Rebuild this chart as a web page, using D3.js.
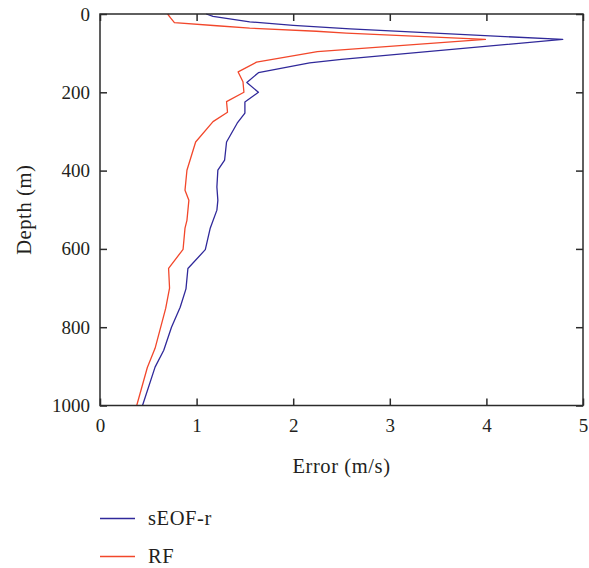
<!DOCTYPE html>
<html>
<head>
<meta charset="utf-8">
<script src="https://cdn.jsdelivr.net/npm/d3@7"></script>
<style>
  body { margin: 0; background: #fff; }
  text { font-family: "Liberation Serif", "DejaVu Serif", serif; fill: #231f20; }
</style>
</head>
<body>
<div id="chart"></div>
<script>
// depth (m) and error (m/s)
const seofDepth = [0, 6, 20, 29, 38, 65, 116, 125, 150, 175, 200, 225, 253, 279, 327, 373, 399, 442, 476, 501, 548, 602, 650, 702, 749, 800, 859, 902, 1000];
const seofErr   = [1.10, 1.17, 1.55, 2.00, 2.59, 4.79, 2.50, 2.17, 1.64, 1.52, 1.64, 1.50, 1.50, 1.42, 1.31, 1.29, 1.22, 1.21, 1.22, 1.21, 1.14, 1.09, 0.91, 0.89, 0.83, 0.74, 0.66, 0.57, 0.44];

const rfDepth = [0, 10, 19, 22, 30, 36, 44, 49, 65, 96, 123, 148, 173, 200, 224, 251, 275, 327, 399, 450, 476, 527, 547, 601, 650, 700, 752, 854, 903, 1000];
const rfErr   = [0.70, 0.73, 0.76, 0.77, 1.21, 1.55, 2.24, 2.55, 3.99, 2.25, 1.62, 1.43, 1.48, 1.49, 1.31, 1.32, 1.17, 0.99, 0.90, 0.88, 0.92, 0.90, 0.88, 0.86, 0.71, 0.72, 0.68, 0.57, 0.49, 0.38];

const xTicks = [0, 1, 2, 3, 4, 5];
const yTicks = [0, 200, 400, 600, 800, 1000];

const series = [
  {name: "sEOF-r", depth: seofDepth, err: seofErr, color: "#30299a"},
  {name: "RF", depth: rfDepth, err: rfErr, color: "#f2472b"}
];

const W = 589, H = 568;
const plotL = 100, plotR = 583, plotT = 14, plotB = 405.5;

const svg = d3.select("#chart")
  .append("svg")
    .attr("width", W)
    .attr("height", H);

const x = d3.scaleLinear().domain([0, 5]).range([plotL, plotR]);
const y = d3.scaleLinear().domain([0, 1000]).range([plotT, plotB]);

const axisColor = "#2b2b2b";

// lines
const line = d3.line()
  .x(d => x(d[1]))
  .y(d => y(d[0]));

series.forEach(s => {
  svg.append("path")
    .datum(d3.zip(s.depth, s.err))
    .attr("fill", "none")
    .attr("stroke", s.color)
    .attr("stroke-width", 1.3)
    .attr("stroke-linejoin", "round")
    .attr("d", line);
});

// axes, ticks pointing inward
const gx = svg.append("g")
  .attr("transform", `translate(0,${plotB})`)
  .call(d3.axisBottom(x).tickValues(xTicks).tickSize(-7).tickPadding(13).tickFormat(d3.format("d")));
const gxTop = svg.append("g")
  .attr("transform", `translate(0,${plotT})`)
  .call(d3.axisTop(x).tickValues(xTicks).tickSize(-7).tickFormat(""));
const gy = svg.append("g")
  .attr("transform", `translate(${plotL},0)`)
  .call(d3.axisLeft(y).tickValues(yTicks).tickSize(-7).tickPadding(10).tickFormat(d3.format("d")));
const gyRight = svg.append("g")
  .attr("transform", `translate(${plotR},0)`)
  .call(d3.axisRight(y).tickValues(yTicks).tickSize(-7).tickFormat(""));

[gx, gxTop, gy, gyRight].forEach(g => {
  g.select(".domain").remove();
  g.selectAll(".tick line").attr("stroke", axisColor).attr("stroke-width", 1.5);
  g.selectAll(".tick text")
    .attr("font-family", "Liberation Serif, DejaVu Serif, serif")
    .attr("font-size", 19)
    .attr("fill", "#231f20");
});

svg.append("rect")
  .attr("x", plotL)
  .attr("y", plotT)
  .attr("width", plotR - plotL)
  .attr("height", plotB - plotT)
  .attr("fill", "none")
  .attr("stroke", axisColor)
  .attr("stroke-width", 1.5);

// axis titles
svg.append("text")
  .attr("x", (plotL + plotR) / 2)
  .attr("y", 473)
  .attr("text-anchor", "middle")
  .attr("font-size", 20.5)
  .attr("letter-spacing", 0.6)
  .text("Error (m/s)");

svg.append("text")
  .attr("transform", `translate(31,${(plotT + plotB) / 2}) rotate(-90)`)
  .attr("text-anchor", "middle")
  .attr("font-size", 20.5)
  .attr("letter-spacing", 0.6)
  .text("Depth (m)");

// legend
const legend = svg.append("g");
series.forEach((s, i) => {
  const ly = 518.5 + i * 38;
  legend.append("line")
    .attr("x1", 100).attr("x2", 135)
    .attr("y1", ly).attr("y2", ly)
    .attr("stroke", s.color)
    .attr("stroke-width", 1.3);
  legend.append("text")
    .attr("x", 148)
    .attr("y", ly + 6)
    .attr("font-size", 20.5)
    .attr("letter-spacing", 0.6)
    .text(s.name);
});
</script>
</body>
</html>
